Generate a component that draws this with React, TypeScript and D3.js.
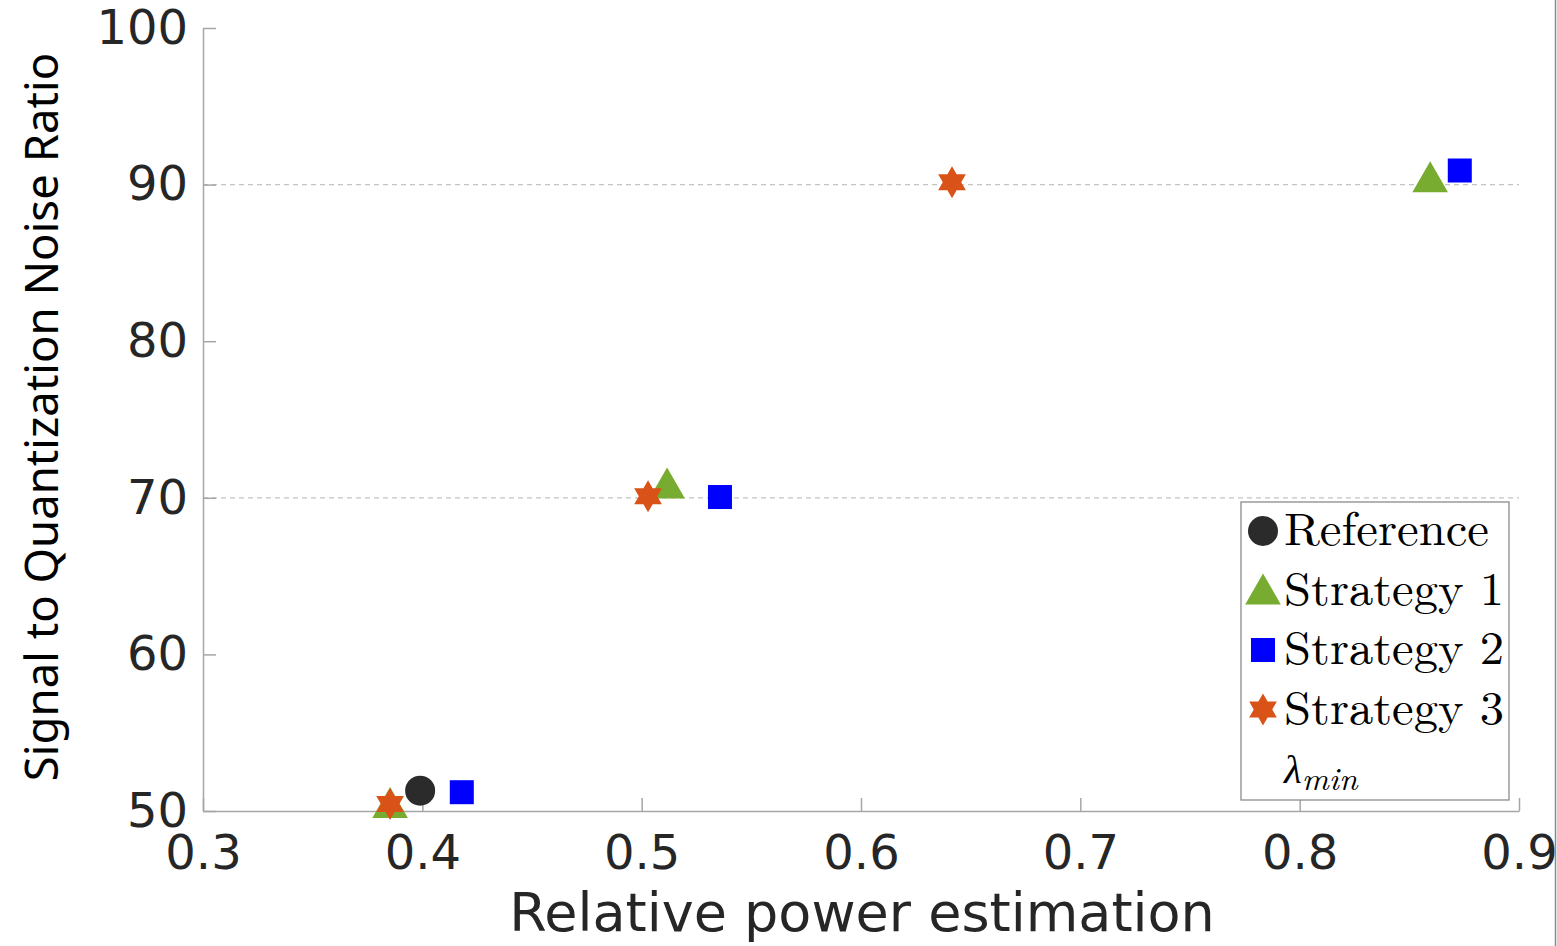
import React, { useEffect, useRef } from 'react';
import * as d3 from 'd3';

const WIDTH = 1557;
const HEIGHT = 946;

const MARGIN = { top: 28, right: 38, bottom: 135, left: 203 };

const xTicks = [0.3, 0.4, 0.5, 0.6, 0.7, 0.8, 0.9];
const yTicks = [50, 60, 70, 80, 90, 100];
const gridValues = [70, 90];

const referenceX = [0.399];
const referenceY = [51.3];
const strategy1X = [0.3853, 0.5116, 0.8595];
const strategy1Y = [50.45, 70.85, 90.4];
const strategy2X = [0.418, 0.5357, 0.873];
const strategy2Y = [51.2, 70.05, 90.9];
const strategy3X = [0.3853, 0.5029, 0.6415];
const strategy3Y = [50.45, 70.1, 90.15];

const COLORS = {
  reference: '#2b2b2b',
  strategy1: '#77ac30',
  strategy2: '#0000ff',
  strategy3: '#d95319',
};

const hexagram = (r: number) => {
  const pts: string[] = [];
  for (let i = 0; i < 12; i++) {
    const rr = i % 2 === 0 ? r : r / Math.sqrt(3);
    const a = (i * Math.PI) / 6 - Math.PI / 2;
    pts.push(`${rr * Math.cos(a)},${rr * Math.sin(a)}`);
  }
  return `M${pts.join('L')}Z`;
};

const triangle = (h: number) => {
  const w = h * 1.15;
  return `M0,${-h * 0.55}L${w / 2},${h * 0.45}L${-w / 2},${h * 0.45}Z`;
};

type Shape = 'circle' | 'triangle' | 'square' | 'hexagram';

const drawMarker = (g: any, shape: Shape, color: string) => {
  if (shape === 'circle') {
    g.append('circle').attr('r', 15).attr('fill', color);
  } else if (shape === 'triangle') {
    g.append('path').attr('d', triangle(31)).attr('fill', color);
  } else if (shape === 'square') {
    g.append('rect').attr('x', -12).attr('y', -12).attr('width', 24).attr('height', 24).attr('fill', color);
  } else {
    g.append('path').attr('d', hexagram(16)).attr('fill', color);
  }
};

export default function App() {
  const ref = useRef<SVGSVGElement>(null);

  useEffect(() => {
    document.body.style.margin = '0';
    const svg = d3.select(ref.current);
    svg.selectAll('*').remove();

    const x = d3.scaleLinear().domain([0.3, 0.9]).range([MARGIN.left, WIDTH - MARGIN.right]);
    const y = d3.scaleLinear().domain([50, 100]).range([HEIGHT - MARGIN.bottom, MARGIN.top]);

    svg.append('rect').attr('width', WIDTH).attr('height', HEIGHT).attr('fill', 'white');

    // dashed grid lines
    svg.append('g')
      .selectAll('line')
      .data(gridValues)
      .enter()
      .append('line')
      .attr('x1', x(0.3))
      .attr('x2', x(0.9))
      .attr('y1', d => y(d))
      .attr('y2', d => y(d))
      .attr('stroke', '#c4c4c4')
      .attr('stroke-width', 1.2)
      .attr('stroke-dasharray', '5,4');

    const axisColor = '#a6a6a6';
    const tickFont = '"DejaVu Sans", sans-serif';

    svg.append('g')
      .attr('transform', `translate(0, ${y(50)})`)
      .call(d3.axisBottom(x).tickValues(xTicks).tickSizeInner(-13).tickSizeOuter(0).tickPadding(24).tickFormat(d3.format('.1f')))
      .call(g => g.select('.domain').attr('stroke', axisColor).attr('stroke-width', 1.5))
      .call(g => g.selectAll('.tick line').attr('stroke', axisColor).attr('stroke-width', 1.5))
      .call(g => g.selectAll('.tick text')
        .attr('fill', '#262626')
        .attr('font-size', 48)
        .attr('font-family', tickFont));

    svg.append('g')
      .attr('transform', `translate(${x(0.3)}, 0)`)
      .call(d3.axisLeft(y).tickValues(yTicks).tickSizeInner(-13).tickSizeOuter(0).tickPadding(15))
      .call(g => g.select('.domain').attr('stroke', axisColor).attr('stroke-width', 1.5))
      .call(g => g.selectAll('.tick line').attr('stroke', axisColor).attr('stroke-width', 1.5))
      .call(g => g.selectAll('.tick text')
        .attr('fill', '#262626')
        .attr('font-size', 48)
        .attr('font-family', tickFont));

    // right image border
    svg.append('line')
      .attr('x1', WIDTH - 1.5).attr('x2', WIDTH - 1.5)
      .attr('y1', 0).attr('y2', HEIGHT)
      .attr('stroke', '#8a8a8a').attr('stroke-width', 1.5);

    svg.append('text')
      .attr('x', 862)
      .attr('y', 931)
      .attr('text-anchor', 'middle')
      .attr('font-size', 54)
      .attr('font-family', tickFont)
      .attr('fill', '#262626')
      .text('Relative power estimation');

    svg.append('text')
      .attr('transform', `translate(58, 417) rotate(-90)`)
      .attr('text-anchor', 'middle')
      .attr('font-size', 45.5)
      .attr('font-family', '"Noto Sans", sans-serif')
      .attr('fill', '#000')
      .text('Signal to Quantization Noise Ratio');

    const series: { xs: number[]; ys: number[]; shape: Shape; color: string }[] = [
      { xs: strategy1X, ys: strategy1Y, shape: 'triangle', color: COLORS.strategy1 },
      { xs: referenceX, ys: referenceY, shape: 'circle', color: COLORS.reference },
      { xs: strategy2X, ys: strategy2Y, shape: 'square', color: COLORS.strategy2 },
      { xs: strategy3X, ys: strategy3Y, shape: 'hexagram', color: COLORS.strategy3 },
    ];

    series.forEach(s => {
      s.xs.forEach((xv, i) => {
        const g = svg.append('g').attr('transform', `translate(${x(xv)}, ${y(s.ys[i])})`);
        drawMarker(g, s.shape, s.color);
      });
    });

    // legend
    const legend = svg.append('g').attr('transform', 'translate(1241, 502)');
    legend.append('rect')
      .attr('width', 268)
      .attr('height', 298)
      .attr('fill', 'white')
      .attr('stroke', '#8c8c8c')
      .attr('stroke-width', 1.3);

    const entries: { label: string; shape: Shape; color: string }[] = [
      { label: 'Reference', shape: 'circle', color: COLORS.reference },
      { label: 'Strategy 1', shape: 'triangle', color: COLORS.strategy1 },
      { label: 'Strategy 2', shape: 'square', color: COLORS.strategy2 },
      { label: 'Strategy 3', shape: 'hexagram', color: COLORS.strategy3 },
    ];
    const serif = '"Latin Modern Roman", "Liberation Serif", "DejaVu Serif", serif';
    entries.forEach((e, i) => {
      const cy = 29 + i * 59.5;
      const g = legend.append('g').attr('transform', `translate(22, ${cy})`);
      drawMarker(g, e.shape, e.color);
      legend.append('text')
        .attr('x', 43)
        .attr('y', cy + 14)
        .attr('font-size', 46)
        .attr('textLength', i === 0 ? 205 : 220)
        .attr('lengthAdjust', 'spacingAndGlyphs')
        .attr('font-family', serif)
        .attr('fill', '#000')
        .text(e.label);
    });
    const lam = legend.append('text')
      .attr('x', 43)
      .attr('y', 281)
      .attr('font-size', 41)
      .attr('font-family', serif)
      .attr('font-style', 'italic')
      .attr('fill', '#000');
    lam.append('tspan').text('λ');
    lam.append('tspan').attr('dy', 7).attr('font-size', 33).text('min');
  }, []);

  return <svg ref={ref} width={WIDTH} height={HEIGHT} style={{ display: 'block' }}></svg>;
}
